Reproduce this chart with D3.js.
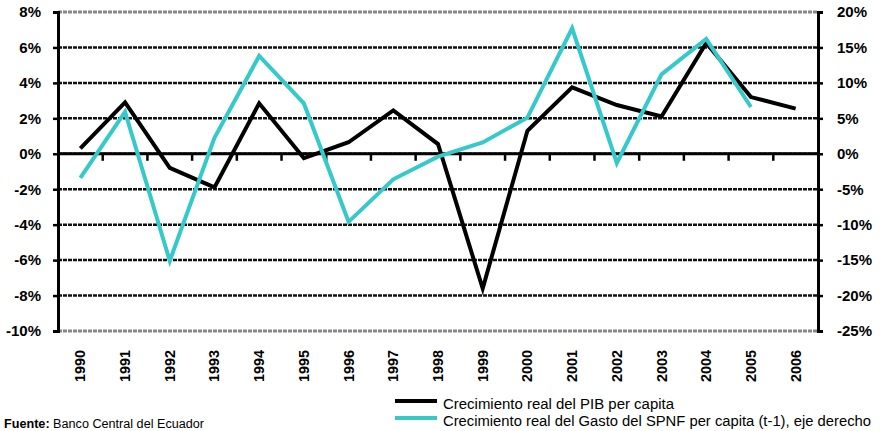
<!DOCTYPE html>
<html>
<head>
<meta charset="utf-8">
<script src="https://cdn.jsdelivr.net/npm/d3@7"></script>
<style>
  body { margin: 0; background: #fff; }
  svg { display: block; font-family: "Liberation Sans", Arial, sans-serif; }
</style>
</head>
<body>
<script>
// años
var years = ["1990","1991","1992","1993","1994","1995","1996","1997","1998",
             "1999","2000","2001","2002","2003","2004","2005","2006"];
// Crecimiento real del PIB per capita (%), eje izquierdo
var pib = [0.3, 2.9, -0.8, -1.9, 2.85, -0.25, 0.65, 2.45, 0.55,
           -7.6, 1.3, 3.75, 2.75, 2.1, 6.25, 3.2, 2.55];
// Crecimiento real del Gasto del SPNF per capita (t-1) (%), eje derecho
var gasto = [-3.4, 5.9, -15.1, 2.25, 13.8, 7.1, -9.6, -3.6, -0.4,
             1.6, 5.1, 17.7, -1.3, 11.2, 16.2, 6.6, null];
var leftTicks = [8, 6, 4, 2, 0, -2, -4, -6, -8, -10];
var rightTicks = [20, 15, 10, 5, 0, -5, -10, -15, -20, -25];
var legendNames = ["Crecimiento real del PIB per capita",
                   "Crecimiento real del Gasto del SPNF per capita (t-1), eje derecho"];

var W = 880, H = 431;
var pLeft = 58, pRight = 818, pTop = 12, pBottom = 331;
var cyan = "#36C9C9";

var svg = d3.select("body").append("svg")
    .attr("width", W).attr("height", H);

var x = d3.scaleBand().domain(years).range([pLeft, pRight]).padding(0);
var yL = d3.scaleLinear().domain([-10, 8]).range([pBottom, pTop]);
var yR = d3.scaleLinear().domain([-25, 20]).range([pBottom, pTop]);

// lineas de cuadricula
svg.append("g").selectAll("line")
    .data(leftTicks)
    .join("line")
    .attr("x1", pLeft).attr("x2", pRight)
    .attr("y1", d => yL(d)).attr("y2", d => yL(d))
    .attr("stroke", d => (d == 8 || d == -10) ? "#888" : "#111")
    .attr("stroke-width", d => (d == 8 || d == -10) ? 3 : 2.5)
    .attr("stroke-dasharray", "4,1");

// eje izquierdo
var axL = svg.append("g")
    .attr("transform", "translate(" + pLeft + ",0)")
    .call(d3.axisLeft(yL).tickValues(leftTicks).tickSize(5).tickPadding(12)
        .tickFormat(d => d + "%"));
// eje derecho
var axR = svg.append("g")
    .attr("transform", "translate(" + pRight + ",0)")
    .call(d3.axisRight(yR).tickValues(rightTicks).tickSize(5).tickPadding(14)
        .tickFormat(d => d + "%"));
[axL, axR].forEach(function(a) {
    a.select(".domain").attr("stroke", "#000").attr("stroke-width", 3);
    a.selectAll(".tick line").attr("stroke", "#000").attr("stroke-width", 2.5);
    a.selectAll("text").attr("fill", "#000")
        .style("font-size", "15px").style("font-weight", "bold");
});

// eje x en el cero, con marcas entre categorías
var zero = svg.append("g").attr("transform", "translate(0," + yL(0) + ")");
zero.append("line")
    .attr("x1", pLeft).attr("x2", pRight)
    .attr("stroke", "#000").attr("stroke-width", 3);
zero.selectAll("line.tk")
    .data(years.slice(1))
    .join("line").attr("class", "tk")
    .attr("x1", d => x(d)).attr("x2", d => x(d))
    .attr("y1", 0).attr("y2", 7)
    .attr("stroke", "#000").attr("stroke-width", 2.5);

// etiquetas de años
svg.append("g").selectAll("text")
    .data(years)
    .join("text")
    .attr("transform", d => "translate(" + (x(d) + x.bandwidth() / 2 + 5) + ",350) rotate(-90)")
    .attr("text-anchor", "end")
    .attr("textLength", 32).attr("lengthAdjust", "spacingAndGlyphs")
    .style("font-size", "14.5px").style("font-weight", "bold")
    .text(d => d);

// series
var lineL = d3.line()
    .defined(d => d != null)
    .x((d, i) => x(years[i]) + x.bandwidth() / 2)
    .y(d => yL(d));
var lineR = d3.line()
    .defined(d => d != null)
    .x((d, i) => x(years[i]) + x.bandwidth() / 2)
    .y(d => yR(d));

svg.append("path").datum(pib)
    .attr("d", lineL)
    .attr("fill", "none").attr("stroke", "#000").attr("stroke-width", 4)
    .attr("stroke-linejoin", "miter");
svg.append("path").datum(gasto)
    .attr("d", lineR)
    .attr("fill", "none").attr("stroke", cyan).attr("stroke-width", 4)
    .attr("stroke-linejoin", "miter");

// leyenda
var legColors = ["#000", cyan];
var legLens = [231, 428];
legendNames.forEach(function(name, i) {
    var ly = 401 + i * 17;
    svg.append("line")
        .attr("x1", 395).attr("x2", 437)
        .attr("y1", ly).attr("y2", ly)
        .attr("stroke", legColors[i]).attr("stroke-width", 4);
    svg.append("text")
        .attr("x", 443).attr("y", ly + 7.5)
        .attr("textLength", legLens[i]).attr("lengthAdjust", "spacingAndGlyphs")
        .style("font-size", "13.8px")
        .text(name);
});

// fuente
var src = svg.append("text").attr("x", 4).attr("y", 428)
    .attr("textLength", 200).attr("lengthAdjust", "spacingAndGlyphs")
    .style("font-size", "12px");
src.append("tspan").style("font-weight", "bold").text("Fuente:");
src.append("tspan").text(" Banco Central del Ecuador");
</script>
</body>
</html>
